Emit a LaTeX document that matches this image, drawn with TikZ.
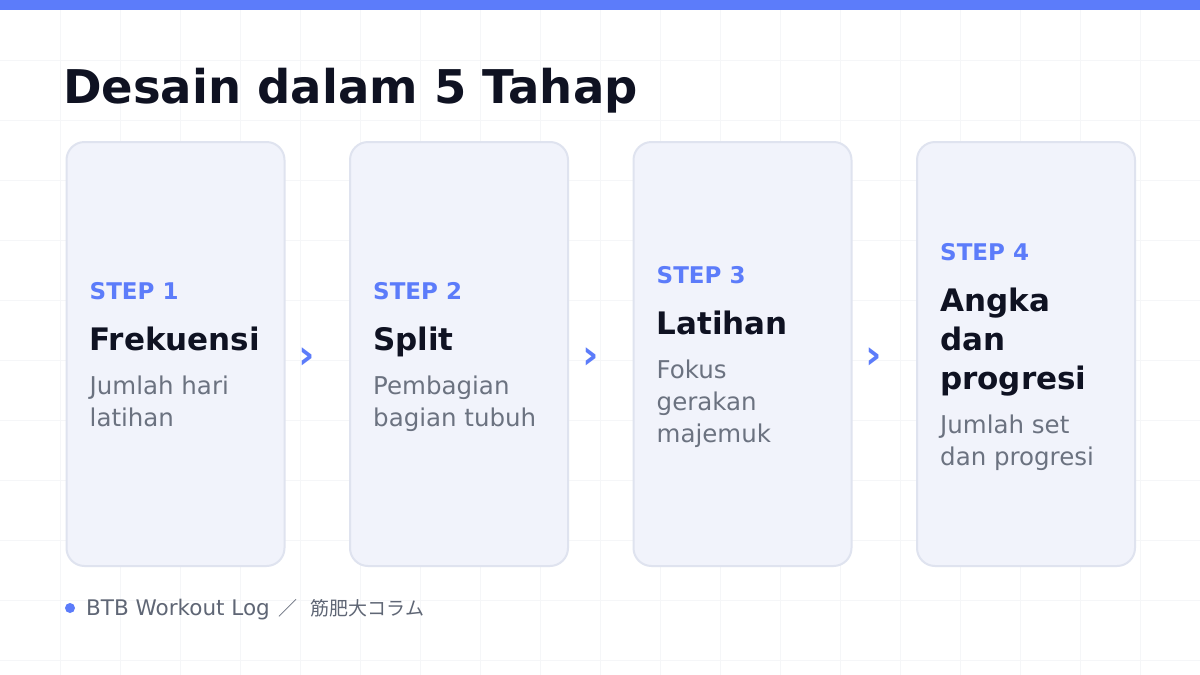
\documentclass[tikz,border=0pt]{standalone}
\usepackage{fontspec}
\setmainfont{DejaVu Sans}
\newfontfamily\cjk{Noto Sans CJK JP}
\usetikzlibrary{calc}
\definecolor{accent}{HTML}{5C7CFA}
\definecolor{ink}{HTML}{0F1222}
\definecolor{muted}{HTML}{6B7280}
\definecolor{cardfill}{HTML}{F1F3FB}
\definecolor{cardline}{HTML}{DFE3EF}
\definecolor{gridline}{HTML}{F5F6F8}
\definecolor{footgray}{HTML}{5F6675}
\begin{document}
\begin{tikzpicture}[x=1pt,y=-1pt,
  card/.style={draw=cardline,line width=2pt,fill=cardfill,rounded corners=18pt,
    minimum width=218pt,minimum height=424pt,inner sep=0pt,anchor=north west},
  steplabel/.style={anchor=base west,inner sep=0pt,text=accent,font=\fontsize{23}{28}\selectfont\bfseries},
  headline/.style={anchor=base west,inner sep=0pt,text=ink,font=\fontsize{31}{39}\selectfont\bfseries},
  descline/.style={anchor=base west,inner sep=0pt,text=muted,font=\fontsize{24.5}{32}\selectfont},
  chevron/.style={inner sep=0pt,text=accent,font=\fontsize{40}{40}\selectfont\bfseries}]
  \useasboundingbox (0,0) rectangle (1200,675);
  \fill[white] (0,0) rectangle (1200,675);

  % background grid
  \foreach \gx in {60,120,...,1140}
    \draw[gridline,line width=1pt] (\gx,10) -- (\gx,675);
  \foreach \gy in {60,120,...,660}
    \draw[gridline,line width=1pt] (0,\gy) -- (1200,\gy);
  \fill[accent] (0,0) rectangle (1200,10);

  \node[anchor=base west,inner sep=0pt,text=ink,font=\fontsize{46.5}{56}\selectfont\bfseries] (title) at (63,103) {Desain dalam 5 Tahap};

  % cards
  \node[card] (c1) at (65.5,141) {};
  \node[card] (c2) at (349,141) {};
  \node[card] (c3) at (632.5,141) {};
  \node[card] (c4) at (916,141) {};

  % step 1
  \node[steplabel] (s1) at ($(c1.north west)+(24,158)$) {STEP 1};
  \node[headline] (h1) at ($(s1.base west)+(0,51)$) {Frekuensi};
  \node[descline] (d1a) at ($(h1.base west)+(0,44)$) {Jumlah hari};
  \node[descline] (d1b) at ($(d1a.base west)+(0,32)$) {latihan};

  % step 2
  \node[steplabel] (s2) at ($(c2.north west)+(24,158)$) {STEP 2};
  \node[headline] (h2) at ($(s2.base west)+(0,51)$) {Split};
  \node[descline] (d2a) at ($(h2.base west)+(0,44)$) {Pembagian};
  \node[descline] (d2b) at ($(d2a.base west)+(0,32)$) {bagian tubuh};

  % step 3
  \node[steplabel] (s3) at ($(c3.north west)+(24,142)$) {STEP 3};
  \node[headline] (h3) at ($(s3.base west)+(0,51)$) {Latihan};
  \node[descline] (d3a) at ($(h3.base west)+(0,44)$) {Fokus};
  \node[descline] (d3b) at ($(d3a.base west)+(0,32)$) {gerakan};
  \node[descline] (d3c) at ($(d3b.base west)+(0,32)$) {majemuk};

  % step 4
  \node[steplabel] (s4) at ($(c4.north west)+(24,119)$) {STEP 4};
  \node[headline] (h4a) at ($(s4.base west)+(0,51)$) {Angka};
  \node[headline] (h4b) at ($(h4a.base west)+(0,39)$) {dan};
  \node[headline] (h4c) at ($(h4b.base west)+(0,39)$) {progresi};
  \node[descline] (d4a) at ($(h4c.base west)+(0,44)$) {Jumlah set};
  \node[descline] (d4b) at ($(d4a.base west)+(0,32)$) {dan progresi};

  % chevrons between cards
  \node[chevron] (a1) at ($($(c1.east)!0.34!(c2.west)$)+(0,4)$) {›};
  \node[chevron] (a2) at ($($(c2.east)!0.34!(c3.west)$)+(0,4)$) {›};
  \node[chevron] (a3) at ($($(c3.east)!0.34!(c4.west)$)+(0,4)$) {›};

  % footer
  \node[circle,fill=accent,minimum size=10pt,inner sep=0pt] (dot) at (70,608) {};
  \node[anchor=base west,inner sep=0pt,text=footgray,font=\fontsize{21.5}{24}\selectfont] (foot) at (86,615)
    {BTB Workout Log {\cjk\fontsize{19}{24}\selectfont\hspace{2pt}／ \hspace{9pt}筋肥大コラム}};
\end{tikzpicture}
\end{document}
